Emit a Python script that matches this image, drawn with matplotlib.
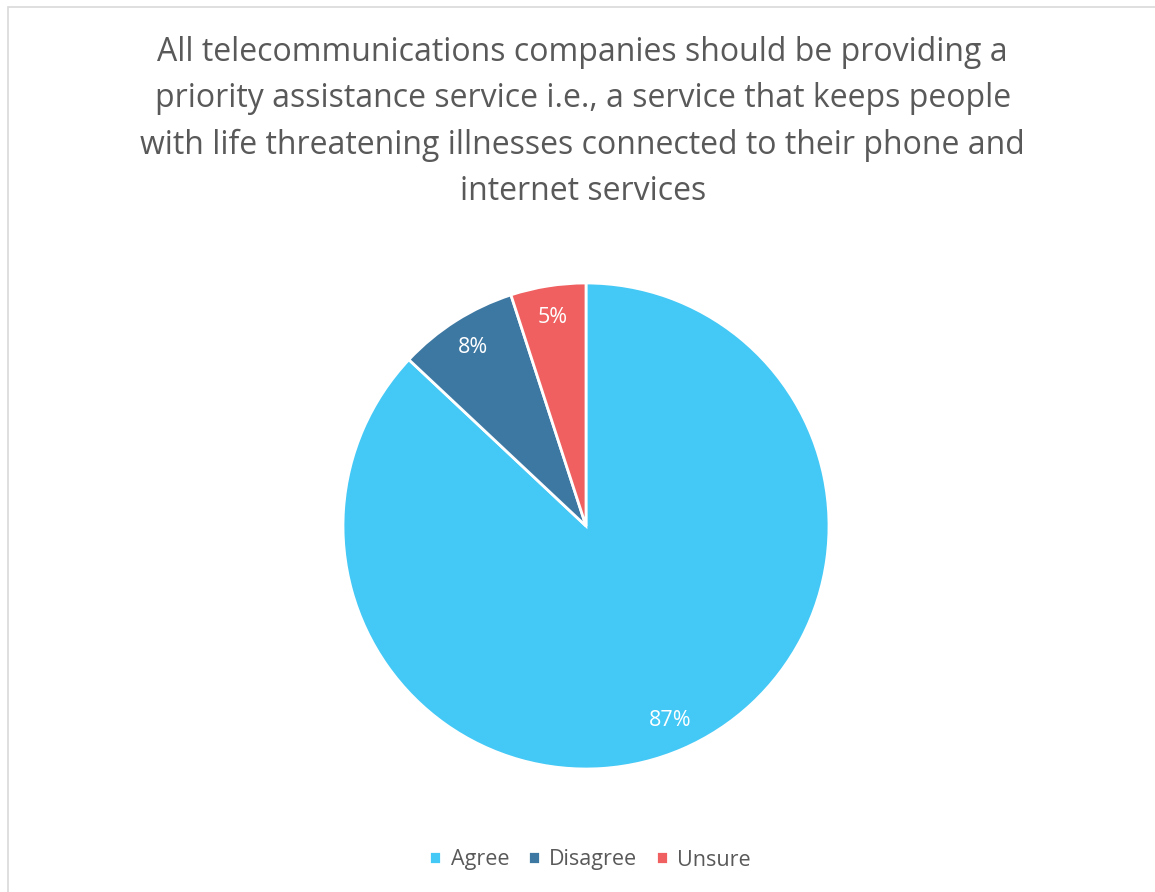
import matplotlib.pyplot as plt
from matplotlib.patches import Rectangle

plt.rcParams['font.family'] = ['Open Sans', 'DejaVu Sans']

labels = ["Agree", "Disagree", "Unsure"]
shares = [87, 8, 5]
colors = ["#44C8F5", "#3D78A3", "#F06060"]
title = ("All telecommunications companies should be providing a\n"
         "priority assistance service i.e., a service that keeps people\n"
         "with life threatening illnesses connected to their phone and\n"
         "internet services")


def main():
    fig = plt.figure(figsize=(11.55, 8.92), dpi=100)

    # light frame around the chart area
    fig.patches.append(Rectangle((8 / 1155, -0.05), 1.2, 1.05 - 7 / 892,
                                 transform=fig.transFigure, fill=False,
                                 edgecolor="#D9D9D9", linewidth=1.2))

    fig.text(0.5045, 1 - 36 / 892, title, ha="center", va="top",
             fontsize=23.0, color="#595959", linespacing=1.53)

    ax = fig.add_axes([343 / 1155, 123 / 892, 486 / 1155, 486 / 892])
    wedges, _, autotexts = ax.pie(
        shares, colors=colors, startangle=90, counterclock=False,
        autopct="%1.0f%%", pctdistance=0.87,
        wedgeprops=dict(edgecolor="white", linewidth=2),
        textprops=dict(color="white", fontsize=15.5))
    ax.set_xlim(-1, 1)
    ax.set_ylim(-1, 1)
    ax.set_aspect("equal")

    fig.legend(wedges, labels, loc="center", bbox_to_anchor=(0.511, 1 - 860 / 892),
               ncol=3, frameon=False, fontsize=15.5, handlelength=0.55,
               handleheight=0.55, handletextpad=0.45, columnspacing=0.85,
               labelcolor="#595959")

    fig.savefig("out.png", dpi=100, facecolor="white")
    plt.close(fig)


if __name__ == "__main__":
    main()
